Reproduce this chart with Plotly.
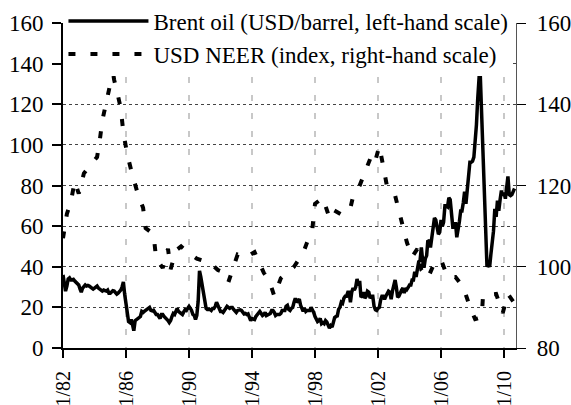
import pandas as pd
import plotly.graph_objects as go

# Brent oil, USD/barrel, monthly from Jan 1982 (left-hand scale)
BRENT_START = "1982-01-01"
BRENT = [
    36.0, 32.0, 28.0, 30.5, 34.0, 34.5, 33.5, 33.5, 33.8, 33.0, 32.5, 31.5,  # 1982
    31.0, 29.0, 27.5, 29.5, 30.0, 31.0, 30.5, 30.8, 30.5, 30.0, 29.5, 29.0,  # 1983
    29.5, 30.0, 30.5, 29.5, 29.0, 29.0, 28.0, 28.5, 28.0, 28.0, 28.5, 27.0,  # 1984
    27.0, 28.0, 28.2, 28.0, 27.0, 26.5, 27.0, 27.5, 28.5, 30.0, 32.5, 26.5,  # 1985
    20.5, 16.0, 13.0, 12.5, 14.0, 11.5, 8.5, 13.5, 14.0, 14.0, 14.5, 15.5,  # 1986
    18.0, 17.5, 18.0, 18.5, 18.5, 19.0, 20.0, 18.5, 18.3, 18.6, 17.8, 16.5,  # 1987
    16.5, 15.5, 14.5, 16.5, 16.5, 15.5, 15.0, 14.5, 13.5, 12.5, 13.5, 15.5,  # 1988
    17.0, 16.5, 18.5, 19.5, 18.0, 17.5, 17.5, 16.5, 17.8, 18.8, 18.5, 19.8,  # 1989
    20.5, 19.5, 18.5, 16.5, 16.0, 14.0, 16.0, 23.0, 38.0, 35.0, 31.0, 25.0,  # 1990
    22.0, 19.5, 19.0, 19.0, 19.0, 18.5, 19.5, 19.5, 20.5, 22.5, 21.0, 18.5,  # 1991
    18.0, 18.0, 17.5, 18.5, 19.5, 20.5, 20.0, 19.5, 20.0, 20.0, 19.0, 18.5,  # 1992
    17.5, 18.5, 18.8, 18.8, 18.5, 17.8, 16.8, 17.0, 16.5, 16.8, 15.0, 13.5,  # 1993
    14.5, 14.0, 14.0, 15.5, 16.5, 17.0, 18.0, 17.0, 16.0, 16.5, 17.5, 16.0,  # 1994
    16.5, 17.0, 17.0, 18.5, 18.5, 17.5, 16.0, 16.5, 16.5, 16.5, 17.0, 18.5,  # 1995
    18.5, 18.5, 20.5, 21.0, 19.0, 18.5, 19.5, 20.0, 22.5, 24.5, 22.5, 23.5,  # 1996
    24.0, 21.0, 19.5, 18.0, 19.5, 18.0, 18.5, 18.5, 18.5, 20.0, 19.0, 17.5,  # 1997
    15.5, 14.0, 13.0, 13.5, 14.5, 12.0, 12.5, 12.0, 13.5, 12.8, 11.0, 9.8,  # 1998
    11.0, 10.3, 12.5, 15.0, 15.5, 15.8, 19.0, 20.0, 22.5, 22.0, 24.5, 25.5,  # 1999
    25.5, 27.5, 27.5, 22.5, 27.5, 29.5, 28.5, 30.0, 34.0, 30.8, 33.0, 25.0,  # 2000
    25.5, 27.5, 24.5, 25.5, 28.0, 27.5, 24.5, 25.5, 25.5, 20.5, 18.8, 18.5,  # 2001
    19.5, 20.0, 23.5, 25.5, 25.5, 24.0, 25.5, 26.5, 28.0, 27.5, 24.0, 28.0,  # 2002
    31.0, 33.5, 30.0, 25.0, 25.5, 27.5, 28.5, 29.5, 27.0, 29.5, 28.8, 29.8,  # 2003
    31.0, 31.0, 33.5, 33.5, 37.5, 35.0, 38.0, 42.5, 43.0, 49.5, 43.0, 39.5,  # 2004
    44.0, 45.5, 53.0, 52.5, 49.5, 54.5, 57.5, 64.0, 63.0, 59.5, 56.0, 57.0,  # 2005
    63.0, 60.0, 62.0, 70.0, 70.0, 69.5, 74.0, 73.0, 63.0, 59.5, 59.5, 62.0,  # 2006
    54.5, 57.5, 62.0, 67.5, 67.5, 71.5, 77.0, 71.0, 77.0, 82.5, 91.5, 91.5,  # 2007
    92.0, 94.0, 101.0, 110.0, 123.0, 133.0, 133.0, 114.0, 98.0, 72.0, 52.0, 40.0,  # 2008
    41.0, 40.0, 46.0, 50.5, 57.5, 68.5, 64.5, 72.5, 67.5, 73.0, 77.5, 75.0,  # 2009
    76.5, 73.5, 79.0, 84.5, 75.5, 75.0, 75.5, 77.0, 78.5,  # 2010
]

# USD nominal effective exchange rate index (right-hand scale)
NEER_DATES = [
    "1982-01", "1982-04", "1982-07", "1982-10", "1983-01", "1983-05", "1983-11",
    "1984-03", "1984-05", "1984-07", "1984-10", "1985-01", "1985-02", "1985-04",
    "1985-07", "1985-09", "1985-11", "1986-02", "1986-06", "1986-10", "1987-02",
    "1987-04", "1987-10", "1987-12", "1988-05", "1988-09", "1988-11", "1989-03",
    "1989-07", "1989-12", "1990-07", "1991-05", "1991-11", "1992-03", "1992-07",
    "1992-09", "1993-02", "1993-08", "1994-03", "1994-10", "1995-02", "1995-06",
    "1995-11", "1996-09", "1997-04", "1997-07", "1997-11", "1998-01", "1998-07",
    "1998-12", "1999-03", "1999-10", "2000-04", "2000-06", "2000-11", "2001-07",
    "2001-10", "2002-02", "2002-06", "2002-08", "2003-02", "2003-06", "2003-11",
    "2004-03", "2004-07", "2004-10", "2005-03", "2005-08", "2006-01", "2006-06",
    "2006-12", "2007-06", "2007-11", "2008-03", "2008-08", "2008-09", "2009-07",
    "2009-12", "2010-04", "2010-09",
]
NEER = [
    107.0, 113.0, 116.0, 121.0, 118.0, 123.0, 125.5,
    127.0, 131.0, 136.0, 140.5, 145.0, 150.0, 146.0,
    142.0, 139.0, 133.0, 127.5, 122.5, 118.0, 114.5,
    109.5, 108.0, 102.0, 99.7, 104.4, 99.4, 104.0,
    105.0, 103.6, 102.0, 101.0, 99.2, 98.7, 96.2,
    98.0, 103.0, 102.2, 103.6, 98.5, 96.7, 92.8,
    97.2, 100.0, 103.4, 106.0, 109.5, 115.5, 117.0,
    112.0, 114.0, 112.7, 114.5, 117.3, 120.0, 126.5,
    125.0, 129.7, 123.0, 119.6, 117.5, 112.0, 106.0,
    102.4, 104.4, 99.2, 97.2, 101.0, 101.7, 97.5,
    97.5, 95.0, 90.1, 87.1, 87.6, 93.0, 93.3,
    88.6, 93.3, 91.0,
]

TICK_DATES = ["1982-01-01", "1986-01-01", "1990-01-01", "1994-01-01",
              "1998-01-01", "2002-01-01", "2006-01-01", "2010-01-01"]
TICK_LABELS = ["1/82", "1/86", "1/90", "1/94", "1/98", "1/02", "1/06", "1/10"]

FONT = "Liberation Serif"
FONT_SIZE = 23

brent_dates = pd.date_range(BRENT_START, periods=len(BRENT), freq="MS")

fig = go.Figure()
fig.add_trace(go.Scatter(
    x=brent_dates, y=BRENT, mode="lines", yaxis="y",
    name="Brent oil (USD/barrel, left-hand scale)",
    line=dict(color="black", width=3.5),
))
fig.add_trace(go.Scatter(
    x=pd.to_datetime(NEER_DATES), y=NEER, mode="lines", yaxis="y2",
    name="USD NEER (index, right-hand scale)",
    line=dict(color="black", width=4, dash="7px,15px"),
))

fig.update_layout(
    width=571, height=405,
    margin=dict(l=63, r=55, t=23, b=57, autoexpand=False),
    paper_bgcolor="white", plot_bgcolor="white",
    font=dict(family=FONT, size=FONT_SIZE, color="black"),
    showlegend=True,
    legend=dict(
        x=0.001, y=1.072, xanchor="left", yanchor="top",
        bgcolor="white", borderwidth=0,
        font=dict(family=FONT, size=FONT_SIZE),
        itemwidth=80, tracegroupgap=0,
    ),
    xaxis=dict(
        type="date", range=["1982-01-01", "2010-10-05"],
        tickvals=TICK_DATES, ticktext=TICK_LABELS, tickangle=-90,
        tickfont=dict(size=20),
        ticks="outside", ticklen=8, tickcolor="black", tickwidth=1.5,
        showline=True, linecolor="black", linewidth=2,
        showgrid=True, gridcolor="#c8c8c8", gridwidth=1.5, griddash="6px,12px",
        zeroline=False, ticklabelstandoff=5,
    ),
    yaxis=dict(
        range=[0, 160], dtick=20,
        ticks="outside", ticklen=9, tickcolor="black", tickwidth=1.5,
        showline=True, linecolor="black", linewidth=2,
        showgrid=True, gridcolor="#444444", gridwidth=1, griddash="dot",
        zeroline=False, ticklabelstandoff=4,
    ),
    yaxis2=dict(
        overlaying="y", side="right", range=[80, 160], dtick=20,
        ticks="outside", ticklen=9, tickcolor="black", tickwidth=1.2,
        showline=True, linecolor="#555555", linewidth=1.2,
        showgrid=False, zeroline=False, ticklabelstandoff=6,
    ),
    yaxis3=dict(
        overlaying="y", side="right", range=[80, 160], dtick=20,
        ticks="inside", ticklen=9, tickcolor="black", tickwidth=1.2,
        showticklabels=False, showgrid=False, zeroline=False, showline=False,
    ),
)

# the page body has a default 8px margin; drop it so the figure fills the window
fig.write_html(
    "out.html",
    config={"displayModeBar": False},
    post_script="document.body.style.margin = '0px';",
)
